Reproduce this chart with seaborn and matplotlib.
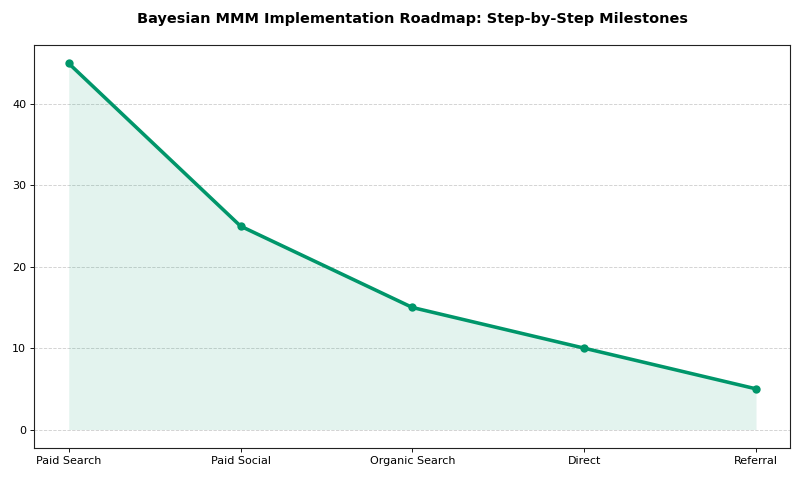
import matplotlib
matplotlib.use("Agg")
import matplotlib.pyplot as plt
import seaborn as sns
import pandas as pd

channels = ["Paid Search", "Paid Social", "Organic Search", "Direct", "Referral"]
values = [45, 25, 15, 10, 5]

sns.set_style("white")
plt.rcParams['font.family'] = ['DejaVu Sans']
plt.rcParams['text.color'] = 'black'
plt.rcParams['xtick.color'] = 'black'
plt.rcParams['ytick.color'] = 'black'

df = pd.DataFrame({"channel": channels, "value": values})
color = "#00966a"

fig, ax = plt.subplots(figsize=(10, 6), dpi=80)
sns.lineplot(data=df, x="channel", y="value", ax=ax, color=color, linewidth=3.2,
             marker="o", markersize=7.5, markeredgewidth=0, sort=False)
ax.fill_between(range(len(values)), values, color=color, alpha=0.11, linewidth=0)
ax.set_xlabel("")
ax.set_ylabel("")
ax.set_title("Bayesian MMM Implementation Roadmap: Step-by-Step Milestones",
             fontsize=13, fontweight="bold", pad=20, color="black")
ax.yaxis.grid(True, linestyle="--", color="#d0d0d0", linewidth=0.8)
ax.set_axisbelow(True)
ax.tick_params(axis="both", which="both", length=4, labelsize=10, left=True, bottom=True,
               colors="black")
for s in ax.spines.values():
    s.set_color("#222222")
    s.set_linewidth(1)
ax.margins(x=0.05, y=0.05)
fig.subplots_adjust(left=0.043, right=0.988, top=0.906, bottom=0.067)
fig.savefig("out.png", dpi=80)
